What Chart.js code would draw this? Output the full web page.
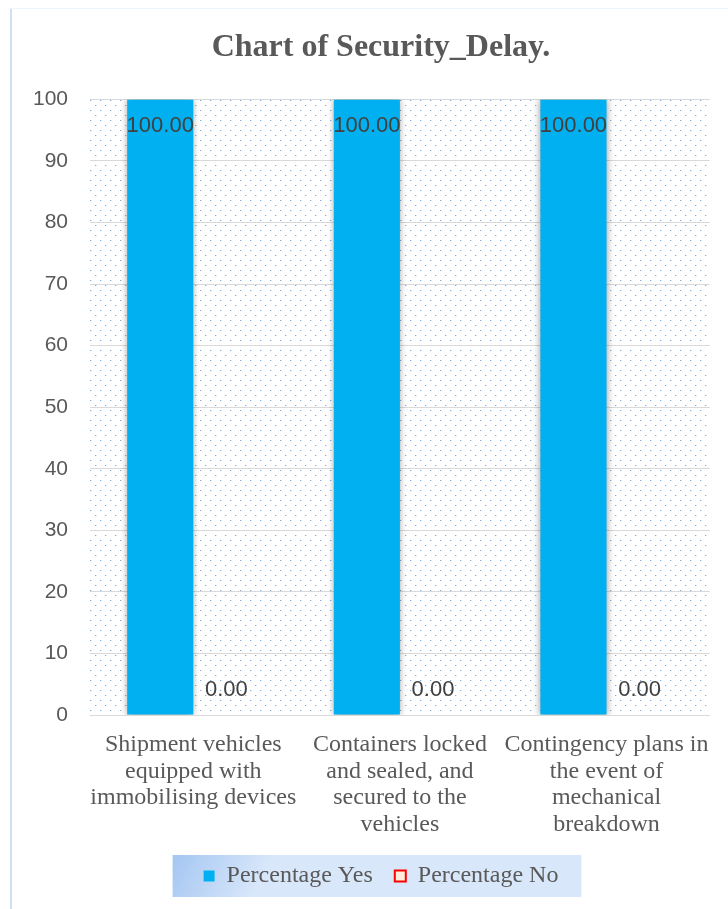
<!DOCTYPE html>
<html>
<head>
<meta charset="utf-8">
<title>Chart of Security_Delay.</title>
<script src="https://cdn.jsdelivr.net/npm/chart.js@4.4.1/dist/chart.umd.min.js"></script>
<style>
  html, body { margin: 0; padding: 0; background: #fff; }
  #wrap { width: 728px; height: 909px; }
</style>
</head>
<body>
<div id="wrap"><canvas id="barChart" width="728" height="909"></canvas></div>
<script>
var categories = [
  ['Shipment vehicles', 'equipped with', 'immobilising devices'],
  ['Containers locked', 'and sealed, and', 'secured to the', 'vehicles'],
  ['Contingency plans in', 'the event of', 'mechanical', 'breakdown']
];
var percentYes = [100, 100, 100];
var percentNo = [0, 0, 0];
var yTicks = [0, 10, 20, 30, 40, 50, 60, 70, 80, 90, 100];

var serif = "'Liberation Serif', 'Times New Roman', serif";
var sans = "'Liberation Sans', Arial, sans-serif";

// dotted fill for the plot area
function makeDots() {
  var c = document.createElement('canvas');
  c.width = 10; c.height = 10;
  var g = c.getContext('2d');
  g.fillStyle = 'rgba(91,155,213,0.8)';
  g.fillRect(0, 0, 1, 1);
  g.fillRect(5, 5, 1, 1);
  g.fillStyle = 'rgba(91,155,213,0.25)';
  g.fillRect(1, 0, 1, 1);
  g.fillRect(6, 5, 1, 1);
  return c;
}

var backdrop = {
  id: 'backdrop',
  beforeDraw: function (chart) {
    var ctx = chart.ctx, a = chart.chartArea;
    ctx.save();
    ctx.fillStyle = '#fff';
    ctx.fillRect(0, 0, chart.width, chart.height);
    // outer frame
    ctx.fillStyle = '#cfe0f4';
    ctx.fillRect(10, 8, 2, chart.height);
    ctx.fillStyle = '#eef4fb';
    ctx.fillRect(10, 8, chart.width, 1);
    // plot area dots
    ctx.fillStyle = ctx.createPattern(makeDots(), 'repeat');
    ctx.fillRect(a.left, a.top, a.right - a.left, a.bottom - a.top);
    // legend panel
    var hb = chart.legend.legendHitBoxes;
    if (hb && hb.length) {
      var first = hb[0], last = hb[hb.length - 1];
      var x0 = first.left - 31, x1 = last.left + last.width + 23;
      var y0 = first.top - 9, y1 = first.top + first.height + 9;
      var grad = ctx.createLinearGradient(x0, y0, x0 + 80, y1);
      grad.addColorStop(0, '#a4c6f2');
      grad.addColorStop(1, '#d9e7fa');
      ctx.fillStyle = grad;
      ctx.fillRect(x0, y0, x1 - x0, y1 - y0);
    }
    ctx.restore();
  }
};

var barShadow = {
  id: 'barShadow',
  beforeDatasetDraw: function (chart) {
    var ctx = chart.ctx;
    ctx.save();
    ctx.shadowColor = 'rgba(0,0,0,0.4)';
    ctx.shadowBlur = 7;
  },
  afterDatasetDraw: function (chart) {
    chart.ctx.restore();
  }
};

var valueLabels = {
  id: 'valueLabels',
  afterDatasetsDraw: function (chart) {
    var ctx = chart.ctx;
    ctx.save();
    ctx.font = '22px ' + sans;
    ctx.fillStyle = '#404040';
    ctx.textAlign = 'center';
    ctx.textBaseline = 'middle';
    chart.data.datasets.forEach(function (ds, i) {
      chart.getDatasetMeta(i).data.forEach(function (bar, j) {
        var v = ds.data[j];
        var y = v > 0 ? bar.y + 27 : bar.base - 25;
        ctx.fillText(v.toFixed(2), bar.x, y);
      });
    });
    ctx.restore();
  }
};

var ctx = document.getElementById('barChart').getContext('2d');
new Chart(ctx, {
  type: 'bar',
  data: {
    labels: categories,
    datasets: [{
      label: 'Percentage Yes',
      data: percentYes,
      backgroundColor: '#00b0f0',
      borderWidth: 0
    }, {
      label: 'Percentage No',
      data: percentNo,
      backgroundColor: '#fdeedb',
      borderWidth: 0
    }]
  },
  options: {
    responsive: false,
    animation: false,
    categoryPercentage: 0.64,
    barPercentage: 1.0,
    layout: { padding: { top: 10, left: 49, right: 15, bottom: 11 } },
    scales: {
      x: {
        grid: { display: false, drawTicks: false },
        border: { display: false },
        ticks: {
          padding: 17,
          maxRotation: 0,
          autoSkip: false,
          color: '#595959',
          font: { family: serif, size: 24, lineHeight: 1.1 }
        },
        afterFit: function (scale) { scale.height = 127; }
      },
      y: {
        min: 0,
        max: 100,
        afterBuildTicks: function (scale) {
          scale.ticks = yTicks.map(function (v) { return { value: v }; });
        },
        grid: { color: '#d9d9d9', lineWidth: 1, drawTicks: false },
        border: { display: false },
        ticks: {
          // labels sit left of the axis box, right-aligned at x = 68
          mirror: true,
          crossAlign: 'far',
          padding: -57,
          color: '#595959',
          font: { family: sans, size: 21 }
        },
        afterFit: function (scale) { scale.width = 41; }
      }
    },
    plugins: {
      title: {
        display: true,
        text: 'Chart of Security_Delay.',
        color: '#595959',
        font: { family: serif, size: 32, weight: 'bold', lineHeight: 1.2 },
        padding: { top: 19, bottom: 32 }
      },
      legend: {
        position: 'bottom',
        labels: {
          boxWidth: 11,
          boxHeight: 11,
          padding: 22,
          color: '#595959',
          font: { family: serif, size: 24 },
          generateLabels: function (chart) {
            var items = Chart.defaults.plugins.legend.labels.generateLabels(chart);
            items[1].strokeStyle = '#ff0000';
            items[1].lineWidth = 2;
            return items;
          }
        }
      },
      tooltip: { enabled: false }
    }
  },
  plugins: [backdrop, barShadow, valueLabels]
});
</script>
</body>
</html>
